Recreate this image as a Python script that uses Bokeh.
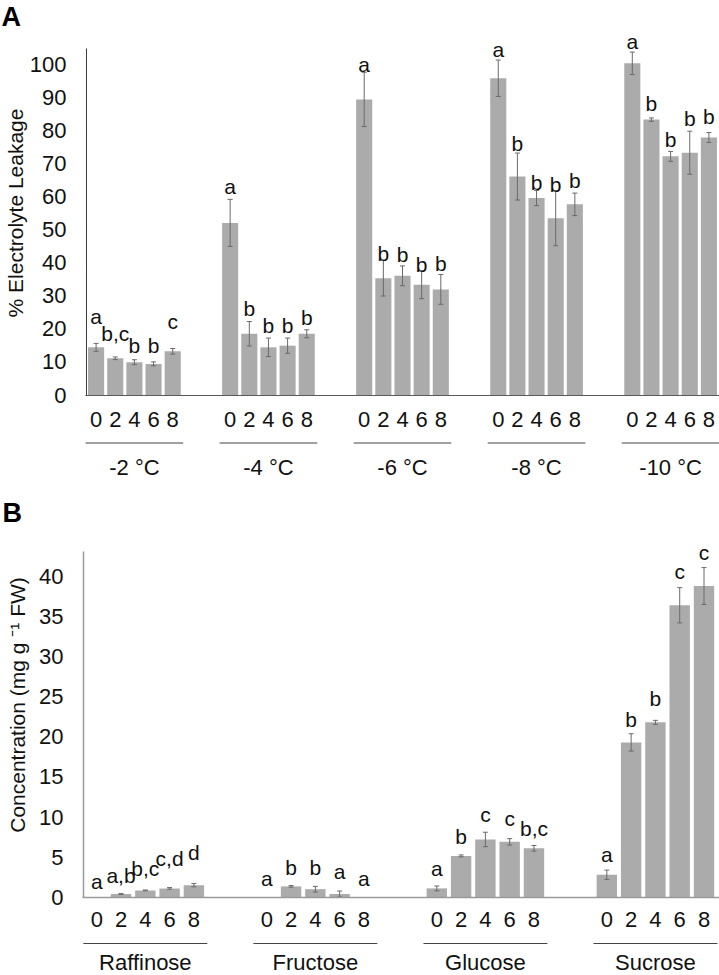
import math
from bokeh.plotting import figure
from bokeh.models import ColumnDataSource, Range1d, FixedTicker
from bokeh.layouts import column
from bokeh.embed import file_html
from bokeh.resources import INLINE
from bokeh.core.properties import value

FONT = "Liberation Sans"

# ---------------- Panel A data: electrolyte leakage ----------------
temps = ["-2 °C", "-4 °C", "-6 °C", "-8 °C", "-10 °C"]
days = ["0", "2", "4", "6", "8"]
leak_mean = [
    [14.4, 11.1, 9.9, 9.4, 13.2],
    [52.0, 18.5, 14.4, 14.9, 18.5],
    [89.3, 35.3, 36.0, 33.3, 31.9],
    [95.7, 66.0, 59.5, 53.4, 57.6],
    [100.2, 83.2, 72.1, 73.2, 77.8],
]
leak_err = [
    [1.2, 0.4, 0.75, 0.6, 0.85],
    [7.1, 3.7, 2.8, 2.3, 1.2],
    [8.2, 5.4, 3.0, 4.2, 4.5],
    [5.5, 7.1, 2.3, 8.3, 3.4],
    [3.4, 0.5, 1.5, 6.5, 1.5],
]
leak_sig = [
    ["a", "b,c", "b", "b", "c"],
    ["a", "b", "b", "b", "b"],
    ["a", "b", "b", "b", "b"],
    ["a", "b", "b", "b", "b"],
    ["a", "b", "b", "b", "b"],
]
# baseline height of each significance letter (axis units)
leak_sig_y = [
    [21.6, 16.5, 12.7, 12.7, 20.0],
    [60.8, 24.0, 18.7, 18.7, 21.3],
    [97.5, 40.4, 40.1, 37.1, 37.6],
    [102.1, 73.9, 62.1, 61.3, 62.6],
    [104.6, 85.7, 74.9, 81.2, 81.9],
]
leak_ticks = [0, 10, 20, 30, 40, 50, 60, 70, 80, 90, 100]

# ---------------- Panel B data: sugar concentration ----------------
sugars = ["Raffinose", "Fructose", "Glucose", "Sucrose"]
conc_mean = [
    [0.0, 0.4, 0.85, 1.1, 1.5],
    [0.0, 1.35, 1.0, 0.4, 0.0],
    [1.1, 5.15, 7.2, 6.9, 6.1],
    [2.8, 19.3, 21.8, 36.4, 38.8],
]
conc_err = [
    [0.0, 0.05, 0.05, 0.1, 0.2],
    [0.0, 0.1, 0.35, 0.37, 0.0],
    [0.3, 0.12, 0.9, 0.4, 0.35],
    [0.58, 1.08, 0.25, 2.2, 2.3],
]
conc_sig = [
    ["a", "a,b", "b,c", "c,d", "d"],
    ["a", "b", "b", "a", "a"],
    ["a", "b", "c", "c", "b,c"],
    ["a", "b", "b", "c", "c"],
]
conc_sig_y = [
    [1.05, 1.75, 2.6, 3.9, 4.7],
    [1.4, 2.8, 2.8, 2.3, 1.45],
    [2.7, 6.65, 9.45, 8.95, 7.7],
    [4.45, 21.2, 23.9, 39.7, 42.1],
]
conc_ticks = [0, 5, 10, 15, 20, 25, 30, 35, 40]

SLOT = 7  # five bars plus two empty slots per group
BAR_COLOR = "#ababab"
ERR_COLOR = "#6a6a6a"
TEXT_COLOR = "#111111"
WIDTH = 719
SIG_SIZE = 21
LAB_SIZE = 22
TAG_SIZE = 27
MID = 0.35  # em-box middle above the alphabetic baseline


def panel(groups, means, errs, sigs, sig_y, yticks, *, height, px_slot,
          x0_px, baseline_px, ppu_y, ymax_axis, axis_color, base_color,
          sep_color, axis_width, axis_px, ytitle, ytitle_pos, tag, tag_base,
          group_base_px, sep_px, digit_standoff):
    # frame == whole canvas; helpers turn canvas pixels into data coordinates
    x_start = -x0_px / px_slot
    x_end = x_start + WIDTH / px_slot
    y_end = baseline_px / ppu_y
    y_start = -(height - baseline_px) / ppu_y

    def dx(px):
        return x_start + px / px_slot

    def dy(py):
        return (baseline_px - py) / ppu_y

    xs, tops, lo, hi, ex, sx, sy, st = [], [], [], [], [], [], [], []
    tick_x, tick_lab = [], []
    gx, gl, s0, s1 = [], [], [], []
    sig_lift = MID * SIG_SIZE / ppu_y
    for g, name in enumerate(groups):
        base = SLOT * g
        for i, d in enumerate(days):
            x = base + i
            xs.append(x)
            tops.append(means[g][i])
            tick_x.append(x)
            tick_lab.append(d)
            if errs[g][i] > 0:
                ex.append(x)
                lo.append(means[g][i] - errs[g][i])
                hi.append(means[g][i] + errs[g][i])
            sx.append(x)
            sy.append(sig_y[g][i] + sig_lift)
            st.append(sigs[g][i])
        gx.append(base + (len(days) - 1) / 2)
        gl.append(name)
        s0.append(base - 0.55)
        s1.append(base + len(days) - 1 + 0.55)

    p = figure(width=WIDTH, height=height, title=None,
               x_range=Range1d(x_start, x_end), y_range=Range1d(y_start, y_end),
               output_backend="svg", toolbar_location=None,
               min_border_left=0, min_border_right=0,
               min_border_top=0, min_border_bottom=0)
    p.outline_line_color = None
    p.xgrid.visible = False
    p.ygrid.visible = False
    p.background_fill_color = "white"
    p.border_fill_color = "white"

    p.vbar(x="x", top="top", width=0.84,
           source=ColumnDataSource(dict(x=xs, top=tops)),
           fill_color=BAR_COLOR, line_color=None)
    esrc = ColumnDataSource(dict(x=ex, lo=lo, hi=hi))
    p.segment(x0="x", y0="lo", x1="x", y1="hi", source=esrc,
              line_color=ERR_COLOR, line_width=1)
    p.scatter(x="x", y="lo", source=esrc, marker="dash", size=5,
              line_color=ERR_COLOR, line_width=1)
    p.scatter(x="x", y="hi", source=esrc, marker="dash", size=5,
              line_color=ERR_COLOR, line_width=1)

    # significance letters
    p.text(x="x", y="y", text="t",
           source=ColumnDataSource(dict(x=sx, y=sy, t=st)),
           text_align="center", text_baseline="middle",
           text_font=value(FONT), text_font_size=f"{SIG_SIZE}px",
           text_color=TEXT_COLOR)

    # y axis (drawn at the left edge of the first bar slot)
    ya = p.yaxis[0]
    ya.fixed_location = dx(axis_px)
    ya.bounds = (0, ymax_axis)
    ya.ticker = FixedTicker(ticks=yticks)
    ya.minor_tick_line_color = None
    ya.major_tick_line_color = None
    ya.major_tick_out = 0
    ya.major_tick_in = 0
    ya.axis_line_color = axis_color
    ya.axis_line_width = axis_width
    ya.major_label_standoff = 20
    ya.major_label_text_font = FONT
    ya.major_label_text_font_size = f"{LAB_SIZE}px"
    ya.major_label_text_color = TEXT_COLOR

    # x axis at zero: day labels under each bar
    xa = p.xaxis[0]
    xa.fixed_location = 0
    xa.bounds = (dx(axis_px) - 0.05, x_end)
    xa.ticker = FixedTicker(ticks=tick_x)
    xa.major_label_overrides = {x: l for x, l in zip(tick_x, tick_lab)}
    xa.minor_tick_line_color = None
    xa.major_tick_line_color = None
    xa.major_tick_out = 0
    xa.major_tick_in = 0
    xa.axis_line_color = base_color
    xa.axis_line_width = axis_width
    xa.major_label_standoff = digit_standoff
    xa.major_label_text_font = FONT
    xa.major_label_text_font_size = f"{LAB_SIZE}px"
    xa.major_label_text_color = TEXT_COLOR

    # group separators and group names
    p.segment(x0="x0", y0="y", x1="x1", y1="y",
              source=ColumnDataSource(dict(x0=s0, x1=s1, y=[dy(sep_px)] * len(s0))),
              line_color=sep_color, line_width=1)
    p.text(x="x", y="y", text="t",
           source=ColumnDataSource(dict(
               x=gx, y=[dy(group_base_px - MID * LAB_SIZE)] * len(gx), t=gl)),
           text_align="center", text_baseline="middle",
           text_font=value(FONT), text_font_size=f"{LAB_SIZE}px",
           text_color=TEXT_COLOR)

    # y axis title
    p.text(x=[dx(ytitle_pos[0])], y=[dy(ytitle_pos[1])], text=[ytitle],
           angle=math.pi / 2, text_align="center", text_baseline="middle",
           text_font=value(FONT), text_font_size="21px", text_color=TEXT_COLOR)
    # panel tag
    p.text(x=[dx(tag_base[0])], y=[dy(tag_base[1] - MID * TAG_SIZE)], text=[tag],
           text_align="left", text_baseline="middle",
           text_font=value(FONT), text_font_style="bold",
           text_font_size=f"{TAG_SIZE}px", text_color="#000000")
    return p


pA = panel(temps, leak_mean, leak_err, leak_sig, leak_sig_y, leak_ticks,
           height=480, px_slot=19.15, x0_px=95.6, baseline_px=394.5,
           ppu_y=3.31, ymax_axis=104.7,
           axis_color="#3a3a3a", base_color="#5a5a5a", sep_color="#444444",
           axis_width=1, axis_px=86, ytitle="% Electrolyte Leakage",
           ytitle_pos=(15, 212.5), tag="A", tag_base=(1, 26),
           group_base_px=475, sep_px=442.5, digit_standoff=17)

pB = panel(sugars, conc_mean, conc_err, conc_sig, conc_sig_y, conc_ticks,
           height=495, px_slot=24.29, x0_px=96.25, baseline_px=416.7,
           ppu_y=8.02, ymax_axis=43.1,
           axis_color="#9a9a9a", base_color="#9a9a9a", sep_color="#444444",
           axis_width=1.5, axis_px=83, ytitle="Concentration (mg g ⁻¹ FW)",
           ytitle_pos=(16.5, 224.5), tag="B", tag_base=(2, 42),
           group_base_px=489.5, sep_px=463, digit_standoff=15)

layout = column(pA, pB)
open("out.html", "w").write(file_html(layout, INLINE))
